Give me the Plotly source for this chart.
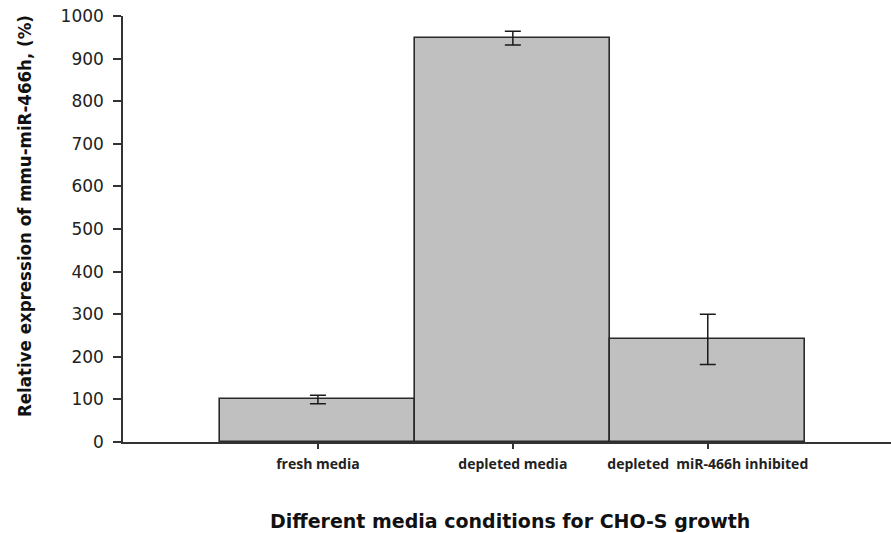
import plotly.graph_objects as go

categories = ["fresh media", "depleted media", "depleted  miR-466h inhibited"]
values = [100, 948, 241]
errors = [10, 16, 59]
y_ticks = [0, 100, 200, 300, 400, 500, 600, 700, 800, 900, 1000]

W, H = 891, 533
ml, mr, mt, mb = 123, 0, 16, 91

fig = go.Figure()
fig.add_trace(go.Bar(
    x=list(range(len(categories))),
    y=values,
    width=1.0,
    marker=dict(color="#c0c0c0", line=dict(color="#2a2a2a", width=1.6)),
    error_y=dict(type="data", array=errors, visible=True, color="#1a1a1a",
                 thickness=1.5, width=8),
))

fig.update_layout(
    width=W, height=H,
    margin=dict(l=ml, r=mr, t=mt, b=mb),
    plot_bgcolor="white", paper_bgcolor="white",
    showlegend=False,
    bargap=0,
    xaxis=dict(
        range=[-1.0, 2.94],
        tickmode="array",
        tickvals=list(range(len(categories))),
        ticktext=[c.replace("  ", "&nbsp; ") for c in categories],
        ticks="outside", ticklen=5, tickwidth=1.5, tickcolor="#333333",
        ticklabelstandoff=3,
        showline=True, linecolor="#333333", linewidth=1.5,
        showgrid=False, zeroline=False,
        tickfont=dict(family="Open Sans", size=14, color="#222222", weight="bold"),
        fixedrange=True,
    ),
    yaxis=dict(
        range=[0, 1000],
        tickmode="array",
        tickvals=y_ticks,
        ticktext=[str(v) for v in y_ticks],
        ticks="outside", ticklen=8, tickwidth=1.5, tickcolor="#333333",
        ticklabelstandoff=6,
        showline=True, linecolor="#333333", linewidth=1.5,
        showgrid=False, zeroline=False,
        tickfont=dict(family="DejaVu Sans", size=17, color="#222222"),
        fixedrange=True,
    ),
    annotations=[
        dict(text="<b>Relative expression of mmu-miR-466h, (%)</b>",
             xref="paper", yref="paper",
             x=(24 - ml) / (W - ml - mr), y=(H - mb - 216) / (H - mt - mb),
             xanchor="center", yanchor="middle", textangle=-90, showarrow=False,
             font=dict(family="DejaVu Sans Condensed, Liberation Sans Narrow, DejaVu Sans",
                       size=18.5, color="#111111")),
        dict(text="<b>Different media conditions for CHO-S growth</b>",
             xref="paper", yref="paper",
             x=(510 - ml) / (W - ml - mr), y=-(521 - (H - mb)) / (H - mt - mb),
             xanchor="center", yanchor="middle", showarrow=False,
             font=dict(family="DejaVu Sans", size=19, color="#111111")),
    ],
)

fig.write_html("out.html", config={"displayModeBar": False},
               post_script="document.body.style.margin='0';document.body.style.overflow='hidden';")
